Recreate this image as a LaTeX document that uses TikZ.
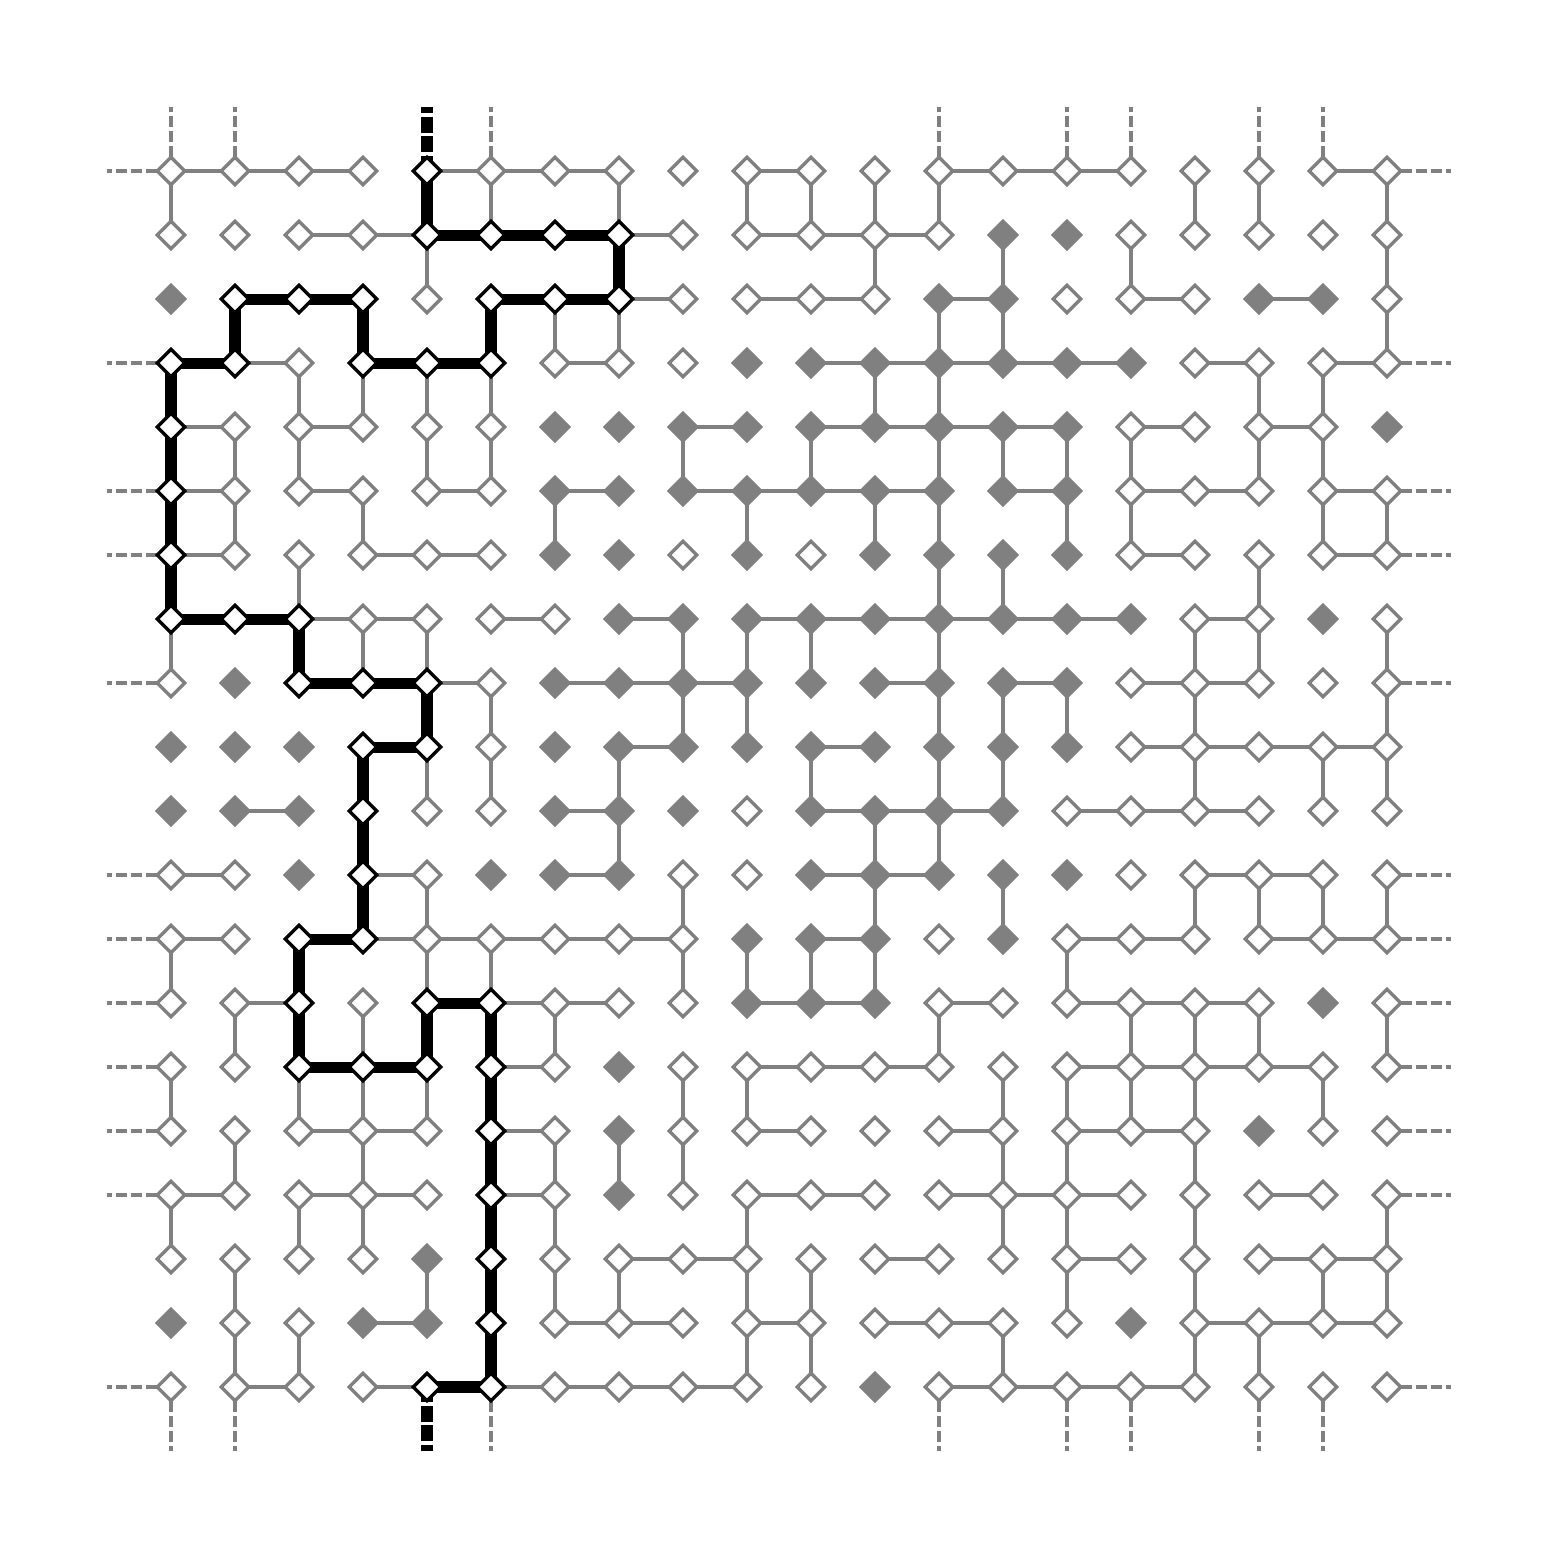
\documentclass[tikz,border=0pt]{standalone}
\usetikzlibrary{shapes.geometric,backgrounds}

\tikzset{
  site/.style={diamond, inner sep=0pt, minimum size=0.45cm, line width=1.45pt},
  site w/.style={site, draw=gray, fill=white},
  site g/.style={site, draw=gray, fill=gray},
  site b/.style={site, draw=black, fill=white},
  bond/.style={gray, line width=1.45pt},
  path bond/.style={black, line width=4.9pt, line join=round},
  stub/.style={gray, line width=1.45pt, dash pattern=on 4.9pt off 1.8pt, dash phase=2.7pt},
  path stub/.style={black, line width=4.9pt, dash pattern=on 7.1pt off 1.6pt, dash phase=4.4pt}
}

\begin{document}
\begin{tikzpicture}
    \useasboundingbox (-2.672,2.672) rectangle (21.672,-21.672);

    % Sites: w = empty, g = filled, b = on the crossing path
    \foreach \row [count=\r from 0] in {
        {w,w,w,w,b,w,w,w,w,w,w,w,w,w,w,w,w,w,w,w},
        {w,w,w,w,b,b,b,b,w,w,w,w,w,g,g,w,w,w,w,w},
        {g,b,b,b,w,b,b,b,w,w,w,w,g,g,w,w,w,g,g,w},
        {b,b,w,b,b,b,w,w,w,g,g,g,g,g,g,g,w,w,w,w},
        {b,w,w,w,w,w,g,g,g,g,g,g,g,g,g,w,w,w,w,g},
        {b,w,w,w,w,w,g,g,g,g,g,g,g,g,g,w,w,w,w,w},
        {b,w,w,w,w,w,g,g,w,g,w,g,g,g,g,w,w,w,w,w},
        {b,b,b,w,w,w,w,g,g,g,g,g,g,g,g,g,w,w,g,w},
        {w,g,b,b,b,w,g,g,g,g,g,g,g,g,g,w,w,w,w,w},
        {g,g,g,b,b,w,g,g,g,g,g,g,g,g,g,w,w,w,w,w},
        {g,g,g,b,w,w,g,g,g,w,g,g,g,g,w,w,w,w,w,w},
        {w,w,g,b,w,g,g,g,w,w,g,g,g,g,g,w,w,w,w,w},
        {w,w,b,b,w,w,w,w,w,g,g,g,w,g,w,w,w,w,w,w},
        {w,w,b,w,b,b,w,w,w,g,g,g,w,w,w,w,w,w,g,w},
        {w,w,b,b,b,b,w,g,w,w,w,w,w,w,w,w,w,w,w,w},
        {w,w,w,w,w,b,w,g,w,w,w,w,w,w,w,w,w,g,w,w},
        {w,w,w,w,w,b,w,g,w,w,w,w,w,w,w,w,w,w,w,w},
        {w,w,w,w,g,b,w,w,w,w,w,w,w,w,w,w,w,w,w,w},
        {g,w,w,g,g,b,w,w,w,w,w,w,w,w,w,g,w,w,w,w},
        {w,w,w,w,b,b,w,w,w,w,w,g,w,w,w,w,w,w,w,w}} {
        \foreach \t [count=\c from 0] in \row {
            \node[site \t] (n-\r-\c) at (\c,-\r) {};
        }
    }

    \begin{pgfonlayer}{background}
        % Open bonds along the rows
        \foreach \r/\cs in {0/{0,1,2,4,5,6,9,12,13,14,18}, 1/{2,3,7,9,10,11},
            2/{7,9,10,12,15,17}, 3/{1,6,10,11,12,13,14,16,18},
            4/{0,2,8,10,11,12,13,15,17}, 5/{0,2,4,6,8,9,10,11,13,15,16,18},
            6/{0,3,4,15,18}, 7/{2,3,5,7,9,10,11,12,13,14,16},
            8/{4,6,7,8,11,13,15,16}, 9/{7,10,15,16,17,18},
            10/{1,6,10,11,12,14,15,16}, 11/{0,3,6,10,11,16,17},
            12/{0,3,4,5,6,7,10,14,15,17,18}, 13/{1,5,6,9,10,12,14,15,16},
            14/{5,9,10,11,14,15,16,17}, 15/{2,3,5,9,12,14,15},
            16/{0,2,3,5,9,10,12,13,14,17}, 17/{7,8,11,14,17,18},
            18/{3,6,7,9,11,12,16,17,18}, 19/{1,3,5,6,7,8,12,13,14,15}} {
            \foreach \c in \cs {
                \pgfmathtruncatemacro\d{\c+1}
                \draw[bond] (n-\r-\c.center) -- (n-\r-\d.center);
            }
        }

        % Open bonds along the columns
        \foreach \r/\cs in {0/{0,5,7,9,10,11,12,16,17,19}, 1/{4,11,13,15,19},
            2/{6,7,12,13,19}, 3/{2,3,4,5,11,12,17,18},
            4/{1,2,4,5,8,10,12,13,14,15,17,18}, 5/{1,3,6,9,11,12,14,15,18,19},
            6/{2,12,13,17}, 7/{0,3,4,8,9,10,12,16,17,19},
            8/{5,8,9,12,13,14,16,19}, 9/{4,5,7,10,12,13,16,18,19},
            10/{7,11,12}, 11/{4,8,11,13,16,17,18,19},
            12/{0,4,5,8,9,10,11,14}, 13/{1,3,6,12,15,16,17,19},
            14/{0,2,3,4,8,9,13,14,15,16,18}, 15/{1,3,6,7,8,13,14,16},
            16/{0,2,3,6,9,13,14,16,19}, 17/{1,4,6,7,9,10,14,16,18,19},
            18/{1,2,9,10,13,16,17}} {
            \foreach \c in \cs {
                \pgfmathtruncatemacro\s{\r+1}
                \draw[bond] (n-\r-\c.center) -- (n-\s-\c.center);
            }
        }

        % Bonds leaving the sample (periodic sides)
        \foreach \r in {0,3,5,6,8,11,12,13,14,15,16,19} {
            \coordinate (west-\r) at (-1,-\r);
            \coordinate (east-\r) at (20,-\r);
            \draw[stub] (west-\r) -- (n-\r-0.center);
            \draw[stub] (east-\r) -- (n-\r-19.center);
        }
        \foreach \c in {0,1,5,12,14,15,17,18} {
            \coordinate (north-\c) at (\c,1);
            \coordinate (south-\c) at (\c,-20);
            \draw[stub] (north-\c) -- (n-0-\c.center);
            \draw[stub] (south-\c) -- (n-19-\c.center);
        }

        % Crossing path, top to bottom
        \coordinate (north-4) at (4,1);
        \coordinate (south-4) at (4,-20);
        \draw[path stub] (north-4) -- (n-0-4.center);
        \draw[path stub] (south-4) -- (n-19-4.center);
        \draw[path bond] (n-0-4.center)
            \foreach \p in {1-4,1-5,1-6,1-7,2-7,2-6,2-5,3-5,3-4,3-3,2-3,2-2,2-1,
                3-1,3-0,4-0,5-0,6-0,7-0,7-1,7-2,8-2,8-3,8-4,9-4,9-3,10-3,11-3,
                12-3,12-2,13-2,14-2,14-3,14-4,13-4,13-5,14-5,15-5,16-5,17-5,
                18-5,19-5,19-4} { -- (n-\p.center) };
    \end{pgfonlayer}
\end{tikzpicture}
\end{document}
